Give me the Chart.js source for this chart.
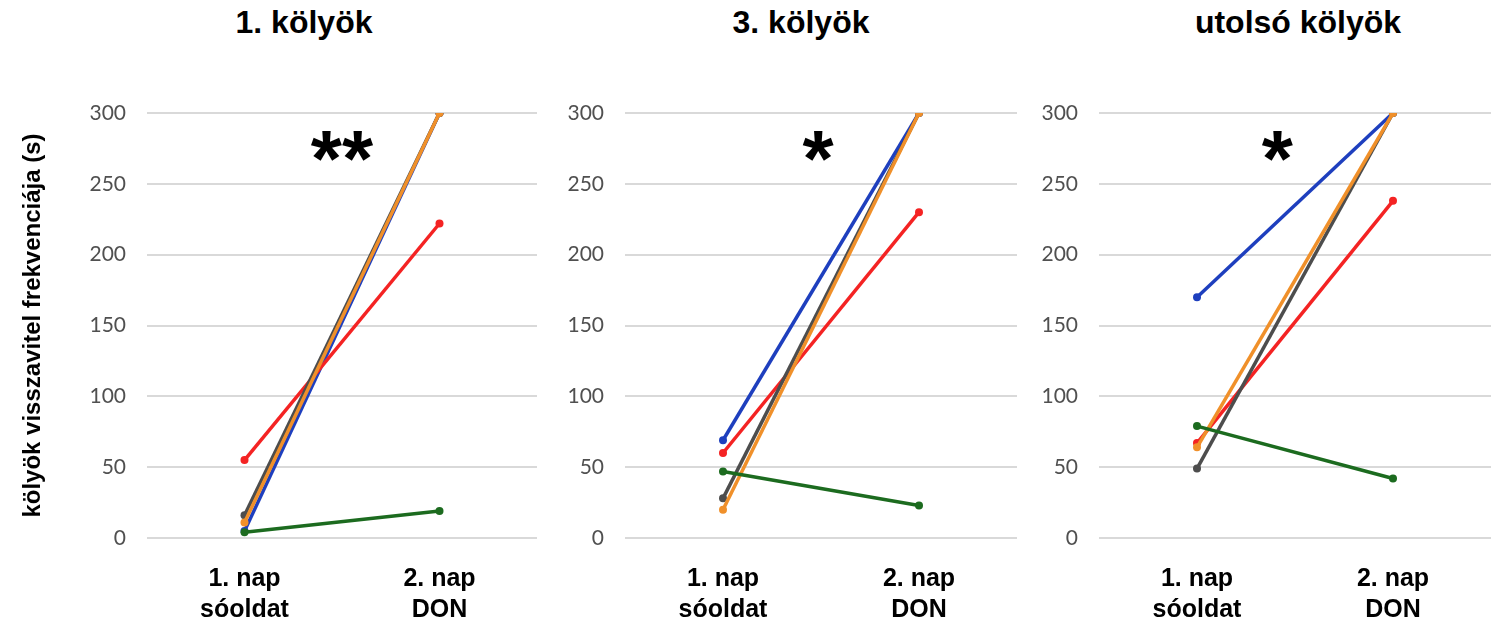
<!DOCTYPE html>
<html lang="hu">
<head>
<meta charset="utf-8">
<title>Kölyök visszavitel</title>
<script src="https://cdn.jsdelivr.net/npm/chart.js@4.4.1/dist/chart.umd.min.js"></script>
<style>
  html, body { margin: 0; padding: 0; background: #ffffff; }
  #wrap { position: relative; width: 1506px; height: 627px; overflow: hidden; background: #fff; }
  .panel { position: absolute; top: 0; height: 627px; }
  .ptitle {
    position: absolute; top: 4px; width: 300px; margin-left: -150px;
    text-align: center; font: bold 32px "Liberation Sans", Arial, sans-serif; color: #000;
    white-space: nowrap;
  }
</style>
</head>
<body>
<div id="wrap">
  <div class="ptitle" id="t1" style="left:304px"></div>
  <div class="ptitle" id="t2" style="left:801px"></div>
  <div class="ptitle" id="t3" style="left:1298px"></div>
  <div class="panel" style="left:0px;width:545px"><canvas id="c1" width="545" height="627"></canvas></div>
  <div class="panel" style="left:545px;width:480px"><canvas id="c2" width="480" height="627"></canvas></div>
  <div class="panel" style="left:1025px;width:481px"><canvas id="c3" width="481" height="627"></canvas></div>
</div>
<script>
// Categories and labels
const categories = [['1. nap', 'sóoldat'], ['2. nap', 'DON']];
const panelTitles = ['1. kölyök', '3. kölyök', 'utolsó kölyök'];
const yAxisTitle = 'kölyök visszavitel frekvenciája (s)';
const yTicks = [0, 50, 100, 150, 200, 250, 300];
const significance = ['**', '*', '*'];

// Per-animal values (s), day 1 saline -> day 2 DON
// 1. kölyök
const p1Green  = [4, 19];
const p1Orange = [11, 300];
const p1Gray   = [16, 300];
const p1Red    = [55, 222];
const p1Blue   = [5, 300];
// 3. kölyök
const p2Green  = [47, 23];
const p2Orange = [20, 300];
const p2Gray   = [28, 300];
const p2Red    = [60, 230];
const p2Blue   = [69, 300];
// utolsó kölyök
const p3Green  = [79, 42];
const p3Orange = [64, 300];
const p3Gray   = [49, 300];
const p3Red    = [67, 238];
const p3Blue   = [170, 300];

const COLORS = {
  green: '#1c6b1f',
  orange: '#f0902a',
  gray: '#4d4d4d',
  red: '#f42323',
  blue: '#1e3fbe'
};

// Significance marks drawn between the two categories
const sigPlugin = {
  id: 'sigMark',
  afterDatasetsDraw(chart, args, opts) {
    if (!opts || !opts.text) return;
    const { ctx, scales } = chart;
    const x0 = scales.x.getPixelForValue(0);
    const x1 = scales.x.getPixelForValue(1);
    const x = x0 + (x1 - x0) * opts.at;
    const yc = scales.y.getPixelForValue(opts.value);
    ctx.save();
    ctx.font = 'bold ' + opts.size + 'px "Liberation Sans", Arial, sans-serif';
    ctx.fillStyle = '#000';
    ctx.textAlign = 'center';
    ctx.textBaseline = 'alphabetic';
    const m = ctx.measureText(opts.text);
    const base = yc - (m.actualBoundingBoxDescent - m.actualBoundingBoxAscent) / 2;
    ctx.fillText(opts.text, x, base);
    ctx.restore();
  }
};

function ds(data, color) {
  return {
    data: data,
    borderColor: color,
    backgroundColor: color,
    borderWidth: 3.5,
    pointRadius: 4,
    pointHoverRadius: 4,
    pointBorderWidth: 0,
    tension: 0,
    fill: false
  };
}

function makePanel(id, series, cfg) {
  new Chart(document.getElementById(id), {
    type: 'line',
    data: {
      labels: categories,
      datasets: [
        ds(series[0], COLORS.green),
        ds(series[1], COLORS.orange),
        ds(series[2], COLORS.gray),
        ds(series[3], COLORS.red),
        ds(series[4], COLORS.blue)
      ]
    },
    plugins: [sigPlugin],
    options: {
      responsive: false,
      animation: false,
      events: [],
      layout: { padding: { top: 113, right: cfg.rightPad, bottom: 0, left: 0 } },
      plugins: {
        legend: { display: false },
        tooltip: { enabled: false },
        title: { display: false },
        sigMark: { text: cfg.sig, at: cfg.sigAt, value: 277, size: 80 }
      },
      scales: {
        x: {
          type: 'category',
          offset: true,
          grid: { display: false },
          border: { display: false },
          ticks: {
            color: '#000',
            autoSkip: false,
            maxRotation: 0,
            padding: 18,
            font: { family: '"Liberation Sans", Arial, sans-serif', weight: 'bold', size: 25, lineHeight: 1.24 }
          },
          afterFit: s => { s.height = 89; }
        },
        y: {
          min: yTicks[0],
          max: yTicks[yTicks.length - 1],
          grid: { color: '#d9d9d9', lineWidth: 2, drawTicks: false },
          border: { display: false },
          ticks: {
            stepSize: yTicks[1] - yTicks[0],
            color: '#505050',
            padding: 21,
            font: { family: 'Lato, "Liberation Sans", sans-serif', size: 21 }
          },
          title: {
            display: cfg.showTitle,
            text: yAxisTitle,
            color: '#000',
            font: { family: '"Liberation Sans", Arial, sans-serif', weight: 'bold', size: 24 },
            padding: { top: 19, bottom: 0 }
          },
          afterFit: s => { s.width = cfg.yWidth; }
        }
      }
    }
  });
}

document.getElementById('t1').textContent = panelTitles[0];
document.getElementById('t2').textContent = panelTitles[1];
document.getElementById('t3').textContent = panelTitles[2];

makePanel('c1', [p1Green, p1Orange, p1Gray, p1Red, p1Blue],
  { yWidth: 147, rightPad: 8, showTitle: true, sig: significance[0], sigAt: 0.5 });
makePanel('c2', [p2Green, p2Orange, p2Gray, p2Red, p2Blue],
  { yWidth: 80, rightPad: 8, showTitle: false, sig: significance[1], sigAt: 0.485 });
makePanel('c3', [p3Green, p3Orange, p3Gray, p3Red, p3Blue],
  { yWidth: 74, rightPad: 15, showTitle: false, sig: significance[2], sigAt: 0.41 });
</script>
</body>
</html>
